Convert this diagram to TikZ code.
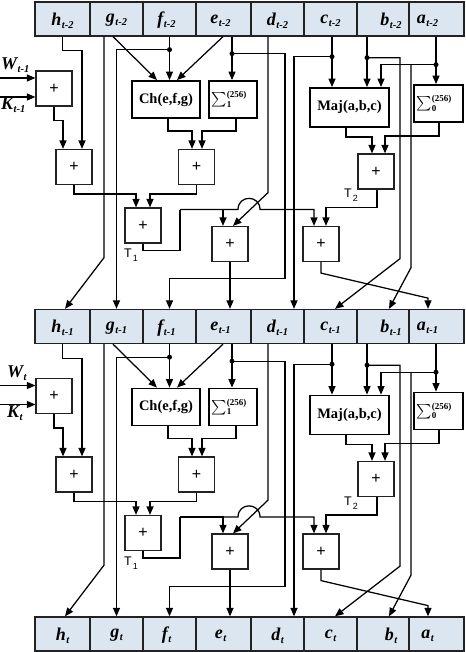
\documentclass[tikz,border=0pt]{standalone}
\usepackage{fontspec}
\usepackage{graphicx}
\setmainfont{Liberation Serif}
\setsansfont{Liberation Sans}
\usetikzlibrary{arrows.meta,calc}
\definecolor{regfill}{HTML}{DCE6F1}
\definecolor{boxline}{HTML}{222222}
\newcommand\reglbl[2]{{\bfseries\itshape\fontsize{18}{18}\selectfont #1\kern0.5pt\raisebox{-3pt}{\fontsize{10.5}{10.5}\selectfont #2}}}
\newcommand\sigmalbl[1]{\raisebox{-1pt}{\scalebox{1.45}{$\sum$}}\kern0.5pt\rlap{\raisebox{5pt}{\bfseries\fontsize{9}{9}\selectfont (256)}}\raisebox{-4.5pt}{\bfseries\fontsize{9}{9}\selectfont #1}}
\tikzset{
 reg/.style={draw=boxline, line width=1.3pt, fill=regfill, minimum height=34pt, inner sep=0pt},
 adder/.style={draw=boxline, line width=1.2pt, minimum width=36pt, minimum height=35pt, inner sep=0pt, font=\sffamily\fontsize{16}{16}\selectfont},
 fbox/.style={draw=black, line width=1.8pt, inner sep=0pt, font=\bfseries\fontsize{14.5}{15}\selectfont},
 sbox/.style={draw=black, line width=1.8pt, inner sep=2pt, align=left, minimum height=37pt},
 tlbl/.style={inner sep=0pt, font=\sffamily\fontsize{12.5}{12.5}\selectfont},
 ln/.style={line width=1.25pt},
 arr/.style={line width=1.25pt, -{Triangle[length=8.5pt,width=7pt]}},
 jdot/.style={circle, fill, inner sep=0pt, minimum size=5pt},
}
% #1 top reg, #2 next reg, #3 prefix, #4 W/K subscript, #5 label x, #6 y offset
\newcommand\shastage[6]{%
\node[adder] (#3awk) at (54,88.5+#6) {+};
\node[adder] (#3a2) at (74,167+#6) {+};
\node[fbox, minimum width=68pt, minimum height=37pt] (#3ch) at (166,99.5+#6) {Ch(e,f,g)};
\node[sbox, text width=44pt] (#3s1) at (233,99.5+#6) {\sigmalbl{1}};
\node[adder] (#3a3) at (196.5,167+#6) {+};
\node[adder] (#3a4) at (143,225.5+#6) {+};
\node[adder] (#3a5) at (230,244+#6) {+};
\node[adder] (#3a6) at (321,244+#6) {+};
\node[adder] (#3a7) at (376,171.5+#6) {+};
\node[fbox, minimum width=79pt, minimum height=39pt] (#3maj) at (349.5,107.5+#6) {Maj(a,b,c)};
\node[sbox, text width=45pt] (#3s0) at (438.5,103.5+#6) {\sigmalbl{0}};
\node[tlbl, anchor=base west] (#3t1) at (124,257.5+#6) {T\kern1pt\raisebox{-4pt}{\fontsize{9}{9}\selectfont 1}};
\node[tlbl, anchor=base west] (#3t2) at (344,198+#6) {T\kern1pt\raisebox{-4pt}{\fontsize{9}{9}\selectfont 2}};
\node[anchor=base west, inner sep=0pt] (#3wl) at (#5,70+#6) {\reglbl{W}{#4}};
\node[anchor=base west, inner sep=0pt] (#3kl) at (#5,110+#6) {\reglbl{K}{#4}};
\coordinate (#3wi) at (0,78+#6);
\coordinate (#3ki) at (0,97+#6);
\draw[arr] (#3wi) -- (#3wi -| #3awk.west);
\draw[arr] (#3ki) -- (#3ki -| #3awk.west);
\draw[arr] (#1h.south) -- ++(0,14) -| ([xshift=8pt]#3a2.north);
\draw[arr] (#3awk.south) -- ++(0,14) -| ([xshift=-11pt]#3a2.north);
\draw[arr] (#3a2.south) -- ++(0,9) -| ([xshift=-7pt]#3a4.north);
\draw[arr] ([xshift=2pt]#3ch.south) -- ++(0,12) -| ([xshift=-4.5pt]#3a3.north);
\draw[arr] ([xshift=3pt]#3s1.south) -- ++(0,12) -| ([xshift=5.5pt]#3a3.north);
\draw[arr] (#3a3.south) -- ++(0,9) -| ([xshift=7pt]#3a4.north);
\draw[arr] ([xshift=-3.5pt]#1g.south) -- ([xshift=-9pt]#3ch.north);
\draw[arr] (#1f.south) -- (#1f.south |- #3ch.north);
\draw[arr] ([xshift=-0.5pt]#1e.south) -- ([xshift=11pt]#3ch.north);
\coordinate (#3ex) at ([xshift=8.5pt]#1e.south);
\draw[arr] (#3ex) -- (#3ex |- #3s1.north);
\node[jdot] (#3fd) at ($(#1f.south)+(0,13)$) {};
\node[jdot] (#3ed) at ($(#3ex)+(0,17)$) {};
\draw[arr] (#3fd.center) -| (#2g.north);
\draw[arr] (#3ed.center) -- ++(53,0) -- ++(0,225) -| (#2f.north);
\draw[arr] ([xshift=-12.5pt]#1g.south) -- ++(0,221) -- ([xshift=2.5pt]#2h.north);
\draw[arr] ([xshift=-9.5pt]#1d.south) -- ++(0,156) -- ([xshift=3pt]#3a5.north);
\coordinate (#3tc) at ($(#3a4.south)+(37,-34)$);
\draw[ln] (#3a4.south) -- ++(0,7) -| (#3tc);
\draw[arr] (#3tc) -| ([xshift=-7pt]#3a5.north);
\draw[arr] (#3tc) -- ++(58,0) .. controls +(0,-15) and +(0,-15) .. ++(22,0) -| ([xshift=-7pt]#3a6.north);
\draw[arr] ([xshift=1pt]#3a7.south) -- ++(0,18) -| ([xshift=5pt]#3a6.north);
\draw[arr] (#3a5.south) -- (#3a5.south |- #2e.north);
\draw[arr] (#3a6.south) -- ++(0,11) -- ++(107,25) -- ([xshift=-8.5pt]#2a.north);
\coordinate (#3cx) at ([xshift=1.5pt]#1c.south);
\draw[arr] (#3cx) -- (#3cx |- #3maj.north);
\node[jdot] (#3cd) at ($(#3cx)+(0,20)$) {};
\draw[arr] (#3cd.center) -| ([xshift=16.5pt]#2d.north);
\coordinate (#3bx) at ([xshift=-16pt]#1b.south);
\draw[arr] (#3bx) -- (#3bx |- #3maj.north);
\node[jdot] (#3bd) at ($(#3bx)+(0,21)$) {};
\draw[arr] (#3bd.center) -- ++(33,0) -- ++(0,201) -- ([xshift=4.5pt]#2c.north);
\coordinate (#3ax) at ([xshift=-0.5pt]#1a.south);
\draw[arr] (#3ax) -- (#3ax |- #3s0.north);
\node[jdot] (#3ad) at ($(#3ax)+(0,28)$) {};
\draw[arr] (#3ad.center) -| ([xshift=31.5pt]#3maj.north);
\draw[arr] ($(#3ad)+(-25,0)$) -- ++(0,203) -- ([xshift=6pt]#2b.north);
\draw[arr] ([xshift=-3.5pt]#3maj.south) -- ++(0,9) -| ([xshift=-4pt]#3a7.north);
\draw[arr] ([xshift=0.5pt]#3s0.south) -- ++(0,13) -| ([xshift=9pt]#3a7.north);
}
\begin{document}
\begin{tikzpicture}[x=1pt,y=-1pt]
\useasboundingbox (0,0) rectangle (465,652);
\foreach \r/\yc/\sb in {0/19/t-2,1/326.5/t-1,2/634/t}{
 \foreach \l/\xc/\w/\dx in {h/62.5/55/0,g/116.5/53/0,f/169.5/53/-3,e/223.5/55/-3,d/277.5/53/0,c/330.5/53/0,b/383/52/8,a/436.5/55/-9}{
   \node[reg, minimum width=\w pt] (r\r\l) at (\xc,\yc) {};
   \node[inner sep=0pt] (r\r\l-t) at (\xc+\dx,\yc+1.5) {\reglbl{\l}{\sb}};
 }
}
\shastage{r0}{r1}{sA}{t-1}{1}{0}
\shastage{r1}{r2}{sB}{t}{7}{307.5}
\end{tikzpicture}
\end{document}
